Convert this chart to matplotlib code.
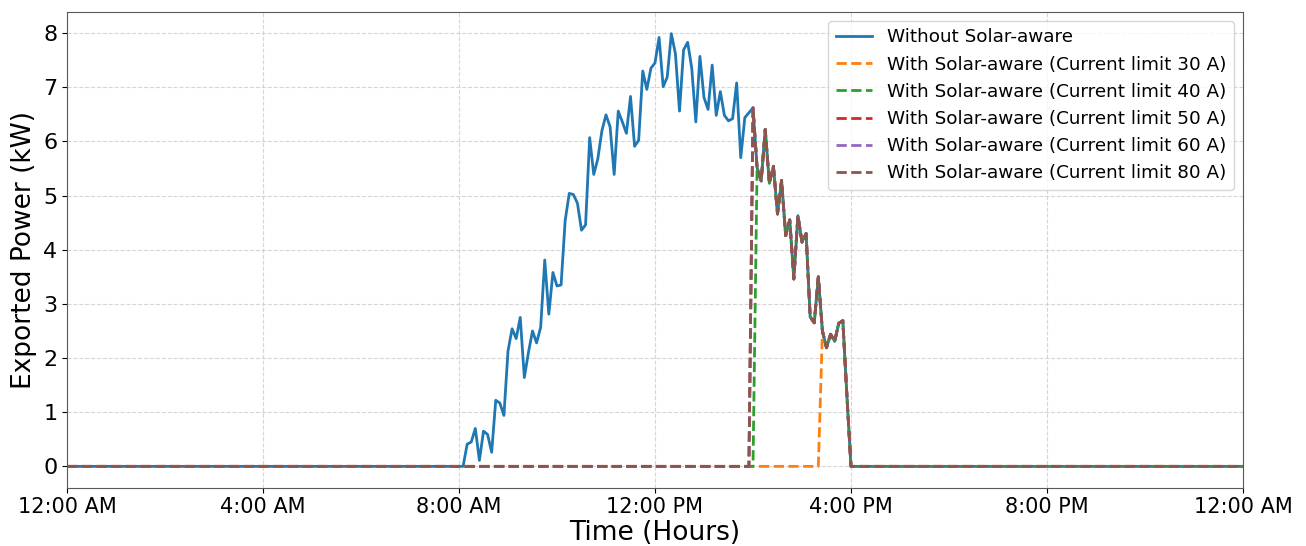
import numpy as np
import matplotlib
matplotlib.use("Agg")
import matplotlib.pyplot as plt
from matplotlib.ticker import FuncFormatter

# 5-minute samples from 8:10 to 15:55 (kW), zero elsewhere
start_label = "08:10"
blue_active = [
    0.41, 0.45, 0.70, 0.11, 0.65, 0.59, 0.26, 1.22, 1.17, 0.94,
    2.13, 2.54, 2.36, 2.75, 1.64, 2.10, 2.50, 2.28, 2.57, 3.81,
    2.81, 3.58, 3.33, 3.35, 4.54, 5.04, 5.02, 4.86, 4.36, 4.46,
    6.07, 5.39, 5.68, 6.20, 6.49, 6.27, 5.39, 6.56, 6.36, 6.15,
    6.83, 5.91, 6.02, 7.30, 6.96, 7.35, 7.45, 7.92, 7.01, 7.19,
    7.99, 7.62, 6.56, 7.69, 7.83, 7.35, 6.36, 7.57, 6.81, 6.59,
    7.41, 6.48, 6.92, 6.48, 6.38, 6.42, 7.08, 5.70, 6.44, 6.53,
    6.62, 5.52, 5.27, 6.22, 5.23, 5.54, 4.66, 5.28, 4.26, 4.55,
    3.46, 4.63, 4.14, 4.30, 2.76, 2.65, 3.50, 2.50, 2.19, 2.44,
    2.31, 2.64, 2.69, 1.30,
]
# time (hour of day) at which each solar-aware case starts following the unmanaged export
limit_labels = ["30 A", "40 A", "50 A", "60 A", "80 A"]
follow_from_hour = [15 + 25 / 60, 14 + 5 / 60, 14.0, 14.0, 14.0]

series_colors = ["#1f77b4", "#ff7f0e", "#2ca02c", "#d62728", "#9467bd", "#8c564b"]

hours = np.arange(0, 24 * 12 + 1) / 12.0
blue = np.zeros_like(hours)
i0 = 8 * 12 + 2
blue[i0:i0 + len(blue_active)] = blue_active

fig = plt.figure(figsize=(13.06, 5.46), dpi=100)
ax = fig.add_axes([67 / 1306, 1 - 488 / 546, (1243 - 67) / 1306, (488 - 12) / 546])

ax.plot(hours, blue, color=series_colors[0], lw=2, label="Without Solar-aware")
for lab, fh, c in zip(limit_labels, follow_from_hour, series_colors[1:]):
    y = np.where(hours >= fh - 1e-9, blue, 0.0)
    ax.plot(hours, y, color=c, lw=2, ls="--",
            label=f"With Solar-aware (Current limit {lab})")

ax.set_xlim(0, 24)
ax.set_xticks(np.arange(0, 25, 4))

def fmt(h, pos):
    h = int(round(h)) % 24
    suffix = "AM" if h < 12 else "PM"
    hh = h % 12
    if hh == 0:
        hh = 12
    return f"{hh}:00 {suffix}"

ax.xaxis.set_major_formatter(FuncFormatter(fmt))
ax.set_yticks(range(0, 9))
ax.tick_params(axis="x", labelsize=15, pad=3)
ax.tick_params(axis="y", labelsize=16)
ax.set_xlabel("Time (Hours)", fontsize=19, labelpad=2)
ax.set_ylabel("Exported Power (kW)", fontsize=19)
ax.grid(True, ls="--", color="#cccccc", lw=0.8, alpha=0.8)
for s in ax.spines.values():
    s.set_edgecolor("0.35")
ax.legend(loc="upper right", fontsize=13.2)

fig.savefig("out.png", dpi=100)
